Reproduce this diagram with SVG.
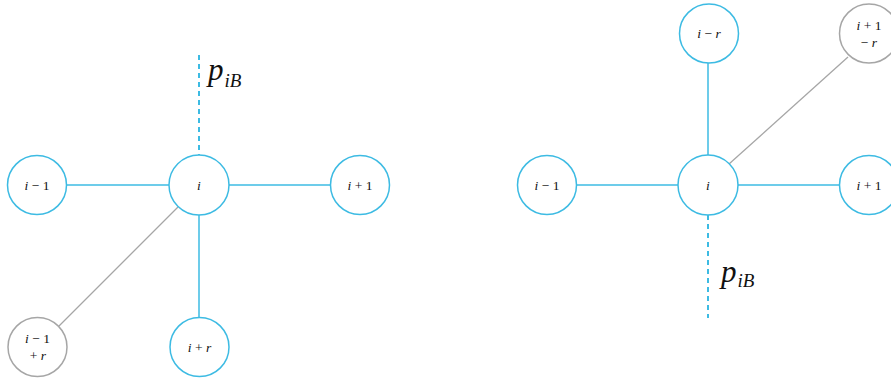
<svg xmlns="http://www.w3.org/2000/svg" width="891" height="381" viewBox="0 0 891 381">
<style>
.nb{fill:#fff;stroke:#3dbbe3;stroke-width:1.5}
.ng{fill:#fff;stroke:#a6a6a6;stroke-width:1.5}
.eb{stroke:#3dbbe3;stroke-width:1.5;fill:none}
.eg{stroke:#a6a6a6;stroke-width:1.3;fill:none}
.ed{stroke:#3dbbe3;stroke-width:2;stroke-dasharray:5,4;fill:none}
.t{font-family:"Liberation Serif",serif;font-size:13.5px;fill:#111;text-anchor:middle}
.it{font-style:italic}
.p{font-family:"Liberation Serif",serif;font-style:italic;fill:#111}
</style>
<g id="connectors">
<line class="eb" x1="67" y1="185" x2="169" y2="185"/>
<line class="eb" x1="229" y1="185" x2="331" y2="185"/>
<line class="eb" x1="199" y1="215" x2="199" y2="318"/>
<line class="eg" x1="178" y1="207" x2="59" y2="326"/>
<line class="ed" x1="199" y1="55" x2="199" y2="155"/>
<line class="eb" x1="577" y1="185" x2="678" y2="185"/>
<line class="eb" x1="738" y1="185" x2="839" y2="185"/>
<line class="eb" x1="708" y1="63" x2="708" y2="155"/>
<line class="eg" x1="729" y1="164" x2="848" y2="57"/>
<line class="ed" x1="708" y1="215" x2="708" y2="318"/>
</g>
<g id="label-left"><text class="p" x="208" y="80" font-size="31">p<tspan font-size="19" dy="7" dx="1">iB</tspan></text></g>
<g id="label-right"><text class="p" x="721" y="282" font-size="31">p<tspan font-size="19" dy="5" dx="1">iB</tspan></text></g>
<g id="L-im1"><circle class="nb" cx="37" cy="185" r="29.5"/><text class="t" x="37" y="189.5"><tspan class="it">i</tspan> − 1</text></g>
<g id="L-i"><circle class="nb" cx="199" cy="185" r="30"/><text class="t it" x="199" y="189.5">i</text></g>
<g id="L-ip1"><circle class="nb" cx="360" cy="185" r="29.5"/><text class="t" x="360" y="189.5"><tspan class="it">i</tspan> + 1</text></g>
<g id="L-im1pr"><circle class="ng" cx="37.5" cy="347" r="29.5"/><text class="t" x="37.5" y="343"><tspan class="it">i</tspan> − 1</text><text class="t" x="38" y="360">+ <tspan class="it">r</tspan></text></g>
<g id="L-ipr"><circle class="nb" cx="199.5" cy="347" r="29.5"/><text class="t" x="199.5" y="351.5"><tspan class="it">i</tspan> + <tspan class="it">r</tspan></text></g>
<g id="R-im1"><circle class="nb" cx="547" cy="185" r="29.5"/><text class="t" x="547" y="189.5"><tspan class="it">i</tspan> − 1</text></g>
<g id="R-i"><circle class="nb" cx="708" cy="185" r="30"/><text class="t it" x="708" y="189.5">i</text></g>
<g id="R-ip1"><circle class="nb" cx="869" cy="185" r="29.5"/><text class="t" x="869" y="189.5"><tspan class="it">i</tspan> + 1</text></g>
<g id="R-imr"><circle class="nb" cx="709" cy="33.5" r="29.5"/><text class="t" x="709" y="38"><tspan class="it">i</tspan> − <tspan class="it">r</tspan></text></g>
<g id="R-ip1mr"><circle class="ng" cx="869" cy="33.5" r="29.5"/><text class="t" x="869" y="30"><tspan class="it">i</tspan> + 1</text><text class="t" x="869" y="47">− <tspan class="it">r</tspan></text></g>
</svg>
